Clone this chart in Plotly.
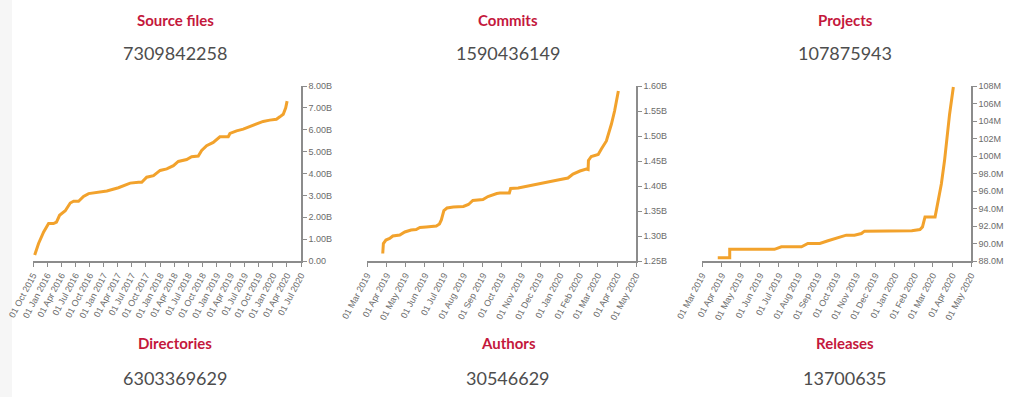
import plotly.graph_objects as go

W, H = 1024, 397

# ---------------- data ----------------
titles_top = ["Source files", "Commits", "Projects"]
numbers_top = ["7309842258", "1590436149", "107875943"]
titles_bottom = ["Directories", "Authors", "Releases"]
numbers_bottom = ["6303369629", "30546629", "13700635"]

src_dates = ["2015-10-12", "2015-11-06", "2015-12-09", "2016-01-10", "2016-02-11", "2016-03-01",
             "2016-03-21", "2016-04-27", "2016-05-29", "2016-06-20", "2016-07-22", "2016-08-23",
             "2016-09-25", "2016-11-18", "2017-01-21", "2017-04-06", "2017-05-09", "2017-06-21",
             "2017-08-14", "2017-09-04", "2017-10-06", "2017-11-19", "2018-01-01", "2018-02-13",
             "2018-03-28", "2018-04-29", "2018-06-22", "2018-07-24", "2018-09-05", "2018-09-27",
             "2018-10-29", "2018-12-11", "2019-01-23", "2019-03-18", "2019-03-29", "2019-05-11",
             "2019-06-23", "2019-08-05", "2019-09-17", "2019-10-30", "2019-12-12", "2020-01-24",
             "2020-02-15", "2020-03-08", "2020-03-24", "2020-04-02"]
src_values = [0.27, 0.80, 1.33, 1.71, 1.71, 1.78, 2.09, 2.30, 2.65, 2.73, 2.73, 2.95,
              3.08, 3.12, 3.20, 3.35, 3.44, 3.56, 3.60, 3.60, 3.83, 3.90, 4.14, 4.21,
              4.36, 4.55, 4.64, 4.77, 4.80, 5.05, 5.27, 5.42, 5.68, 5.68, 5.83, 5.95,
              6.03, 6.14, 6.26, 6.38, 6.44, 6.48, 6.59, 6.71, 7.00, 7.31]  # billions

com_dates = ["2019-03-26", "2019-03-27", "2019-03-31", "2019-04-06", "2019-04-11", "2019-04-22",
             "2019-04-30", "2019-05-10", "2019-05-18", "2019-05-24", "2019-06-03", "2019-06-19",
             "2019-06-24", "2019-06-27", "2019-07-01", "2019-07-06", "2019-07-16", "2019-08-01",
             "2019-08-09", "2019-08-16", "2019-09-01", "2019-09-09", "2019-09-23", "2019-09-28",
             "2019-10-13", "2019-10-15", "2019-10-27", "2019-11-09", "2019-11-20", "2019-11-30",
             "2019-12-16", "2019-12-29", "2020-01-14", "2020-01-22", "2020-02-02", "2020-02-12",
             "2020-02-15", "2020-02-15 12:00", "2020-02-20", "2020-03-02", "2020-03-07",
             "2020-03-15", "2020-03-23", "2020-03-28", "2020-04-03"]
com_values = [1.265, 1.285, 1.292, 1.295, 1.300, 1.302, 1.308, 1.312, 1.313, 1.317, 1.318, 1.320,
              1.324, 1.332, 1.351, 1.356, 1.358, 1.359, 1.363, 1.371, 1.373, 1.379, 1.385, 1.386,
              1.386, 1.395, 1.396, 1.399, 1.403, 1.404, 1.408, 1.412, 1.416, 1.424, 1.430, 1.434,
              1.433, 1.451, 1.459, 1.463, 1.474, 1.490, 1.524, 1.550, 1.590]  # billions

prj_dates = ["2019-03-26", "2019-04-14", "2019-04-14", "2019-06-24", "2019-07-05", "2019-08-06",
             "2019-08-16", "2019-09-04", "2019-09-17", "2019-10-03", "2019-10-16", "2019-10-29",
             "2019-11-09", "2019-11-14", "2019-12-10", "2020-01-28", "2020-02-10", "2020-02-14",
             "2020-02-18", "2020-03-05", "2020-03-10", "2020-03-15", "2020-03-20", "2020-03-24",
             "2020-03-28", "2020-04-03"]
prj_values = [88.38, 88.38, 89.33, 89.33, 89.63, 89.63, 90.0, 90.0, 90.31, 90.69, 90.95, 90.95,
              91.14, 91.41, 91.41, 91.45, 91.6, 91.9, 93.04, 93.04, 94.93, 96.83, 99.48, 102.13,
              104.78, 107.88]  # millions

src_ytick_vals = [0, 1, 2, 3, 4, 5, 6, 7, 8]
src_ytick_text = ["0.00", "1.00B", "2.00B", "3.00B", "4.00B", "5.00B", "6.00B", "7.00B", "8.00B"]
com_ytick_vals = [1.25, 1.30, 1.35, 1.40, 1.45, 1.50, 1.55, 1.60]
com_ytick_text = ["1.25B", "1.30B", "1.35B", "1.40B", "1.45B", "1.50B", "1.55B", "1.60B"]
prj_ytick_vals = [88, 90, 92, 94, 96, 98, 100, 102, 104, 106, 108]
prj_ytick_text = ["88.0M", "90.0M", "92.0M", "94.0M", "96.0M", "98.0M", "100M", "102M",
                  "104M", "106M", "108M"]

# ---------------- styling ----------------
LINE = "#f2a22c"
AXIS = "#8c8c8c"
TICKFONT = dict(family="Liberation Sans, Arial, sans-serif", size=9, color="#6b6b6b")
RED = "#c4183c"
NUMC = "#4d4d4d"

def px_x(p):
    return p / W

def px_y(p):
    return 1 - p / H

x_domains = [(33, 301), (367, 636), (702, 971)]
y_domain = [px_y(261), px_y(86)]

fig = go.Figure()

series = [(src_dates, src_values), (com_dates, com_values), (prj_dates, prj_values)]
for i, (d, v) in enumerate(series):
    suffix = "" if i == 0 else str(i + 1)
    fig.add_trace(go.Scatter(x=d, y=v, mode="lines",
                             line=dict(color=LINE, width=3, shape="linear"),
                             xaxis="x" + suffix, yaxis="y" + suffix,
                             showlegend=False, hoverinfo="skip"))

x_ranges = [["2015-10-01", "2020-07-01"], ["2019-03-01", "2020-05-01"], ["2019-03-01", "2020-05-01"]]
x_dticks = ["M3", "M1", "M1"]
x_tick0 = ["2015-10-01", "2019-03-01", "2019-03-01"]
y_ranges = [[0, 8], [1.25, 1.60], [88, 108]]
y_ticks = [(src_ytick_vals, src_ytick_text), (com_ytick_vals, com_ytick_text),
           (prj_ytick_vals, prj_ytick_text)]

layout = {}
for i in range(3):
    suffix = "" if i == 0 else str(i + 1)
    xa = "xaxis" + suffix
    ya = "yaxis" + suffix
    layout[xa] = dict(
        domain=[px_x(x_domains[i][0]), px_x(x_domains[i][1])],
        anchor="y" + suffix,
        type="date",
        range=x_ranges[i],
        tick0=x_tick0[i],
        dtick=x_dticks[i],
        tickformat="%d %b %Y",
        tickangle=-62,
        ticks="outside", ticklen=4, tickwidth=1, tickcolor=AXIS,
        showline=True, linecolor=AXIS, linewidth=1.5,
        showgrid=False, zeroline=False,
        tickfont=TICKFONT,
        automargin=False,
        fixedrange=True,
    )
    layout[ya] = dict(
        domain=y_domain,
        anchor="x" + suffix,
        side="right",
        range=y_ranges[i],
        tickvals=y_ticks[i][0],
        ticktext=y_ticks[i][1],
        ticks="outside", ticklen=4, tickwidth=1, tickcolor=AXIS,
        showline=True, linecolor=AXIS, linewidth=1.5,
        showgrid=False, zeroline=False,
        tickfont=TICKFONT,
        automargin=False,
        fixedrange=True,
    )

TITLEFONT = dict(family="Lato, sans-serif", size=15, color=RED, weight="bold")
NUMFONT = dict(family="Lato, sans-serif", size=18, color=NUMC)

annotations = []
col_centers = [175, 508, 845]
for i in range(3):
    annotations.append(dict(x=px_x(col_centers[i]), y=px_y(20), xref="paper", yref="paper",
                            text=titles_top[i], showarrow=False, xanchor="center", yanchor="middle",
                            font=TITLEFONT))
    annotations.append(dict(x=px_x(col_centers[i]), y=px_y(53), xref="paper", yref="paper",
                            text=numbers_top[i], showarrow=False, xanchor="center", yanchor="middle",
                            font=NUMFONT))
    annotations.append(dict(x=px_x(col_centers[i]), y=px_y(343), xref="paper", yref="paper",
                            text=titles_bottom[i], showarrow=False, xanchor="center", yanchor="middle",
                            font=TITLEFONT))
    annotations.append(dict(x=px_x(col_centers[i]), y=px_y(378), xref="paper", yref="paper",
                            text=numbers_bottom[i], showarrow=False, xanchor="center", yanchor="middle",
                            font=NUMFONT))

fig.update_layout(
    width=W, height=H,
    margin=dict(l=0, r=0, t=0, b=0, autoexpand=False),
    paper_bgcolor="white", plot_bgcolor="rgba(0,0,0,0)",
    annotations=annotations,
    shapes=[dict(type="rect", xref="paper", yref="paper", x0=0, x1=px_x(12), y0=0, y1=1,
                 fillcolor="#f6f6f6", line=dict(width=0), layer="below")],
    **layout,
)

fig.write_html("out.html", config={"displayModeBar": False},
               post_script="document.body.style.margin='0';document.body.style.overflow='hidden';")
